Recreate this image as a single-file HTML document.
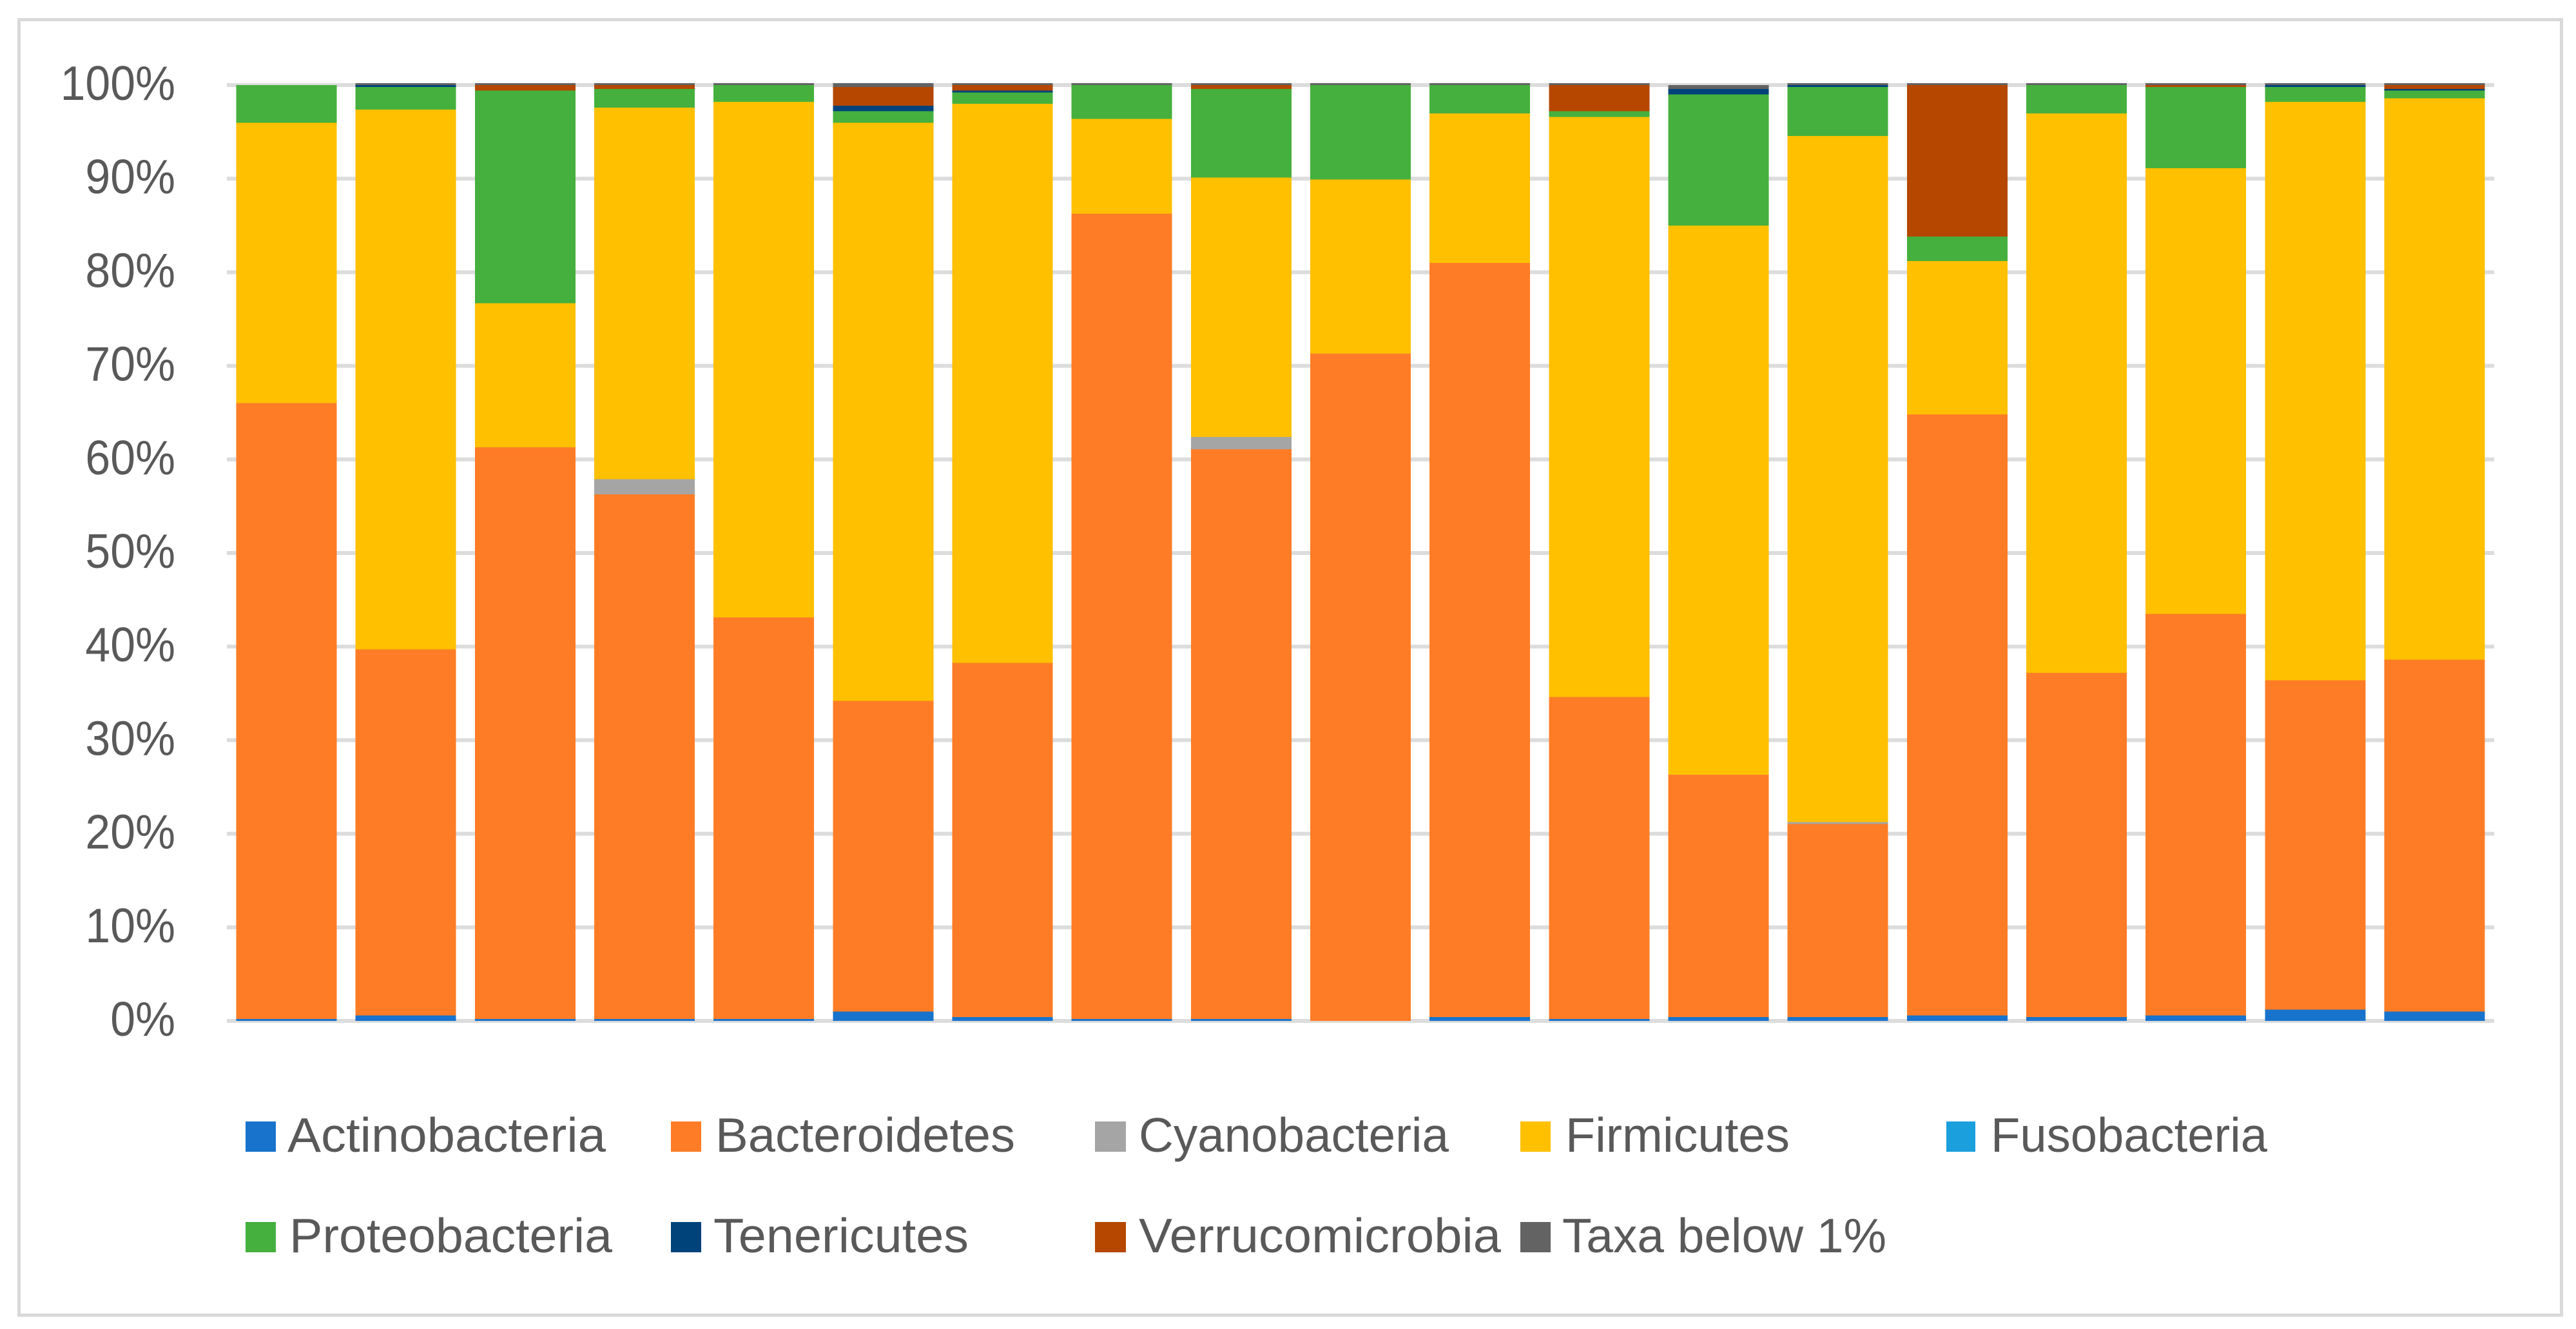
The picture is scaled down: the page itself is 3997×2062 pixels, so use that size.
<!DOCTYPE html>
<html lang="en">
<head>
<meta charset="utf-8">
<title>Stacked phylum composition chart</title>
<style>
  html, body { margin: 0; padding: 0; background: #ffffff; }
  body { width: 3997px; height: 2062px; overflow: hidden; }
  svg { display: block; }
  text { font-family: "Liberation Sans", sans-serif; fill: #595959; }
</style>
</head>
<body>
<svg id="chart" xmlns="http://www.w3.org/2000/svg" width="3997" height="2062" viewBox="0 0 3997 2062">
  <rect x="0" y="0" width="3997" height="2062" fill="#ffffff"/>
  <rect x="29.5" y="30.5" width="3945" height="2010" fill="#ffffff" stroke="#d9d9d9" stroke-width="5"/>
  <g id="grid"></g>
  <g id="ticks"></g>
  <g id="bars" shape-rendering="crispEdges"></g>
  <g font-size="75">
    <g>
      <rect x="381" y="1740" width="47" height="47" fill="#1873cc"/>
      <text x="446" y="1787" textLength="494" lengthAdjust="spacingAndGlyphs">Actinobacteria</text>
    </g>
    <g>
      <rect x="1041" y="1740" width="47" height="47" fill="#ff7c26"/>
      <text x="1110" y="1787" textLength="465" lengthAdjust="spacingAndGlyphs">Bacteroidetes</text>
    </g>
    <g>
      <rect x="1699" y="1740" width="48" height="47" fill="#a5a5a5"/>
      <text x="1767" y="1787" textLength="481" lengthAdjust="spacingAndGlyphs">Cyanobacteria</text>
    </g>
    <g>
      <rect x="2359" y="1740" width="47" height="47" fill="#ffc000"/>
      <text x="2429" y="1787" textLength="348" lengthAdjust="spacingAndGlyphs">Firmicutes</text>
    </g>
    <g>
      <rect x="3020" y="1740" width="45" height="47" fill="#1b9fdd"/>
      <text x="3089" y="1787" textLength="429" lengthAdjust="spacingAndGlyphs">Fusobacteria</text>
    </g>
    <g>
      <rect x="381" y="1896" width="47" height="47" fill="#45b03d"/>
      <text x="449" y="1943" textLength="501" lengthAdjust="spacingAndGlyphs">Proteobacteria</text>
    </g>
    <g>
      <rect x="1041" y="1896" width="47" height="47" fill="#00437b"/>
      <text x="1107" y="1943" textLength="396" lengthAdjust="spacingAndGlyphs">Tenericutes</text>
    </g>
    <g>
      <rect x="1699" y="1896" width="48" height="47" fill="#b54700"/>
      <text x="1767" y="1943" textLength="562" lengthAdjust="spacingAndGlyphs">Verrucomicrobia</text>
    </g>
    <g>
      <rect x="2359" y="1896" width="47" height="47" fill="#636363"/>
      <text x="2424" y="1943" textLength="503" lengthAdjust="spacingAndGlyphs">Taxa below 1%</text>
    </g>
  </g>
</svg>
<script>
const categories = ["S1","S2","S3","S4","S5","S6","S7","S8","S9","S10","S11","S12","S13","S14","S15","S16","S17","S18","S19"];
const tickValues = [0,10,20,30,40,50,60,70,80,90,100];
const tickLabels = ["0%","10%","20%","30%","40%","50%","60%","70%","80%","90%","100%"];
const seriesNames = ["actinobacteria","bacteroidetes","cyanobacteria","firmicutes","fusobacteria","proteobacteria","tenericutes","verrucomicrobia","taxa-below-1"];
const seriesColors = ["#1873cc","#ff7c26","#a5a5a5","#ffc000","#1b9fdd","#45b03d","#00437b","#b54700","#636363"];
const actinobacteria = [0.2,0.6,0.2,0.2,0.2,1,0.4,0.2,0.2,0,0.4,0.2,0.4,0.4,0.6,0.4,0.6,1.2,1];
const bacteroidetes = [65.8,39.1,61.1,56.07,42.9,33.2,37.85,86.05,60.9,71.3,80.6,34.4,25.9,20.63,64.2,36.8,42.9,35.2,37.6];
const cyanobacteria = [0,0,0,1.63,0,0,0,0,1.3,0,0,0,0,0.2,0,0,0,0,0];
const firmicutes = [29.96,57.7,15.4,39.7,55.1,61.76,59.75,10.15,27.7,18.6,15.97,62,58.7,73.33,16.4,59.77,47.6,61.8,60];
const fusobacteria = [0,0,0,0,0,0,0,0,0,0,0,0,0,0,0,0,0,0,0];
const proteobacteria = [4.04,2.4,22.7,2,1.8,1.24,1.2,3.6,9.5,10.1,3.03,0.6,14,5.24,2.63,3.03,8.7,1.6,0.8];
const tenericutes = [0,0.2,0,0,0,0.6,0.2,0,0,0,0,0,0.6,0.2,0,0,0,0.2,0.2];
const verrucomicrobia = [0,0,0.6,0.4,0,2,0.6,0,0.4,0,0,2.8,0,0,16.17,0,0.2,0,0.4];
const taxaBelow1 = [0,0.2,0.2,0.2,0.2,0.4,0.2,0.2,0.2,0.2,0.2,0.2,0.4,0.2,0.2,0.2,0.2,0.2,0.2];
const seriesValues = [actinobacteria,bacteroidetes,cyanobacteria,firmicutes,fusobacteria,proteobacteria,tenericutes,verrucomicrobia,taxaBelow1];

const NS = "http://www.w3.org/2000/svg";
const plotLeft = 352, plotRight = 3870, y0 = 1584, y100 = 132;
const slot = (plotRight - plotLeft) / categories.length;
const barWidth = 156;
function yScale(v) { return y0 - (y0 - y100) * v / 100; }
function xScale(i) { return plotLeft + slot * i + (slot - barWidth) / 2; }

const gridGroup = document.getElementById("grid");
const tickGroup = document.getElementById("ticks");
tickValues.forEach(function (v, i) {
  const line = document.createElementNS(NS, "rect");
  line.setAttribute("x", plotLeft);
  line.setAttribute("y", yScale(v) - 3);
  line.setAttribute("width", plotRight - plotLeft);
  line.setAttribute("height", 6);
  line.setAttribute("fill", "#dcdcdc");
  
  
  gridGroup.appendChild(line);

  const label = document.createElementNS(NS, "text");
  label.setAttribute("transform", "translate(272," + (yScale(v) + 23) + ") scale(0.93,1)");
  label.setAttribute("text-anchor", "end");
  label.setAttribute("font-size", "75");
  label.textContent = tickLabels[i];
  
  
  tickGroup.appendChild(label);
});

const barGroup = document.getElementById("bars");
categories.forEach(function (cat, i) {
  let cum = 0;
  seriesValues.forEach(function (values, s) {
    const val = values[i];
    if (val > 0) {
      const top = yScale(cum + val);
      const bottom = yScale(cum);
      const seg = document.createElementNS(NS, "rect");
      seg.setAttribute("x", xScale(i));
      seg.setAttribute("y", top);
      seg.setAttribute("width", barWidth);
      seg.setAttribute("height", bottom - top);
      seg.setAttribute("fill", seriesColors[s]);
      
      
      seg.setAttribute("data-series", seriesNames[s]);
      seg.setAttribute("data-category", cat);
      barGroup.appendChild(seg);
    }
    cum += val;
  });
});
</script>
</body>
</html>
